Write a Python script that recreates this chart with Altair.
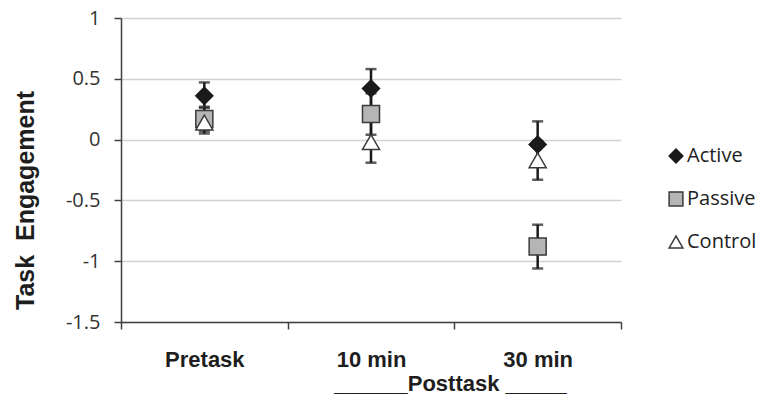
import altair as alt
import pandas as pd

times = ["Pretask", "10 min", "30 min"]
groups = ["Active", "Passive", "Control"]

active_mean = [0.36, 0.42, -0.04]
active_lo = [0.27, 0.26, -0.22]
active_hi = [0.47, 0.58, 0.15]

passive_mean = [0.17, 0.21, -0.88]
passive_lo = [0.07, 0.04, -1.06]
passive_hi = [0.26, 0.38, -0.70]

control_mean = [0.14, -0.02, -0.17]
control_lo = [0.05, -0.19, -0.33]
control_hi = [0.23, 0.15, -0.01]

y_ticks = [-1.5, -1, -0.5, 0, 0.5, 1]

series = [
    ("Active", active_mean, active_lo, active_hi),
    ("Passive", passive_mean, passive_lo, passive_hi),
    ("Control", control_mean, control_lo, control_hi),
]
rows = []
for g, m, lo, hi in series:
    for t, mv, l, h in zip(times, m, lo, hi):
        rows.append({"time": t, "group": g, "mean": mv, "lo": l, "hi": h})
df = pd.DataFrame(rows)

xaxis = alt.Axis(
    title="______Posttask _____",
    tickBand="extent",
    labelAngle=0,
    labelFont="Liberation Sans",
    labelFontWeight="bold",
    labelFontSize=22,
    labelColor="#1e1e1e",
    labelPadding=20,
    tickSize=7,
    tickWidth=1.5,
    tickColor="#404040",
    domainColor="#404040",
    domainWidth=1.5,
    titleFont="Liberation Sans",
    titleFontWeight="bold",
    titleFontSize=22,
    titleColor="#1e1e1e",
    titleX=329,
    titleY=68,
    titleBaseline="alphabetic",
    titleAlign="center",
    grid=False,
)
xscale = alt.Scale(domain=times, paddingInner=0, paddingOuter=0)

yaxis = alt.Axis(
    values=y_ticks,
    labelExpr="toString(datum.value)",
    title="Task\u00a0\u00a0Engagement",
    titleX=-88,
    titleY=182,
    titleAngle=270,
    titleBaseline="alphabetic",
    titleAlign="center",
    titleFont="Liberation Sans",
    titleFontWeight="bold",
    titleFontSize=25,
    titleColor="#1e1e1e",
    labelFont="Open Sans",
    labelFontSize=20,
    labelColor="#333333",
    labelPadding=14,
    tickSize=7,
    tickWidth=1.5,
    tickColor="#404040",
    domainColor="#404040",
    domainWidth=1.5,
    grid=True,
    gridColor="#d2d2d2",
    gridWidth=1.5,
)
yscale = alt.Scale(domain=[-1.5, 1], nice=False, zero=False)

base = alt.Chart(df)

rules = base.mark_rule(color="#1a1a1a", strokeWidth=2.5).encode(
    x=alt.X("time:N", sort=times, scale=xscale, axis=xaxis),
    y=alt.Y("lo:Q", scale=yscale, axis=yaxis),
    y2="hi:Q",
)
caps_lo = base.mark_tick(color="#1a1a1a", size=11, thickness=2.5).encode(
    x=alt.X("time:N", sort=times, scale=xscale, axis=xaxis),
    y=alt.Y("lo:Q", scale=yscale, axis=yaxis),
)
caps_hi = base.mark_tick(color="#1a1a1a", size=11, thickness=2.5).encode(
    x=alt.X("time:N", sort=times, scale=xscale, axis=xaxis),
    y=alt.Y("hi:Q", scale=yscale, axis=yaxis),
)

legend = alt.Legend(
    title=None,
    orient="none",
    legendX=545,
    legendY=128,
    symbolSize=190,
    symbolStrokeWidth=1.5,
    labelFont="Open Sans",
    labelFontSize=20,
    labelColor="#222222",
    labelOffset=1,
    rowPadding=23,
    padding=0,
)

points = base.mark_point(filled=True, size=290, strokeWidth=1.5, opacity=1).encode(
    x=alt.X("time:N", sort=times, scale=xscale, axis=xaxis),
    y=alt.Y("mean:Q", scale=yscale, axis=yaxis),
    shape=alt.Shape(
        "group:N",
        scale=alt.Scale(domain=groups, range=["diamond", "square", "triangle-up"]),
        legend=legend,
    ),
    fill=alt.Fill(
        "group:N",
        scale=alt.Scale(domain=groups, range=["#1a1a1a", "#b5b5b5", "#ffffff"]),
        legend=legend,
    ),
    stroke=alt.Stroke(
        "group:N",
        scale=alt.Scale(domain=groups, range=["#1a1a1a", "#3a3a3a", "#3a3a3a"]),
        legend=legend,
    ),
)

chart = (
    alt.layer(rules, caps_lo, caps_hi, points)
    .properties(
        width=500,
        height=304,
        autosize=alt.AutoSizeParams(type="none"),
        padding={"left": 113, "top": 10, "right": 135, "bottom": 73},
        background="white",
    )
    .configure_view(stroke=None)
)

chart.save("out.html", embed_options={"renderer": "svg", "actions": False})
